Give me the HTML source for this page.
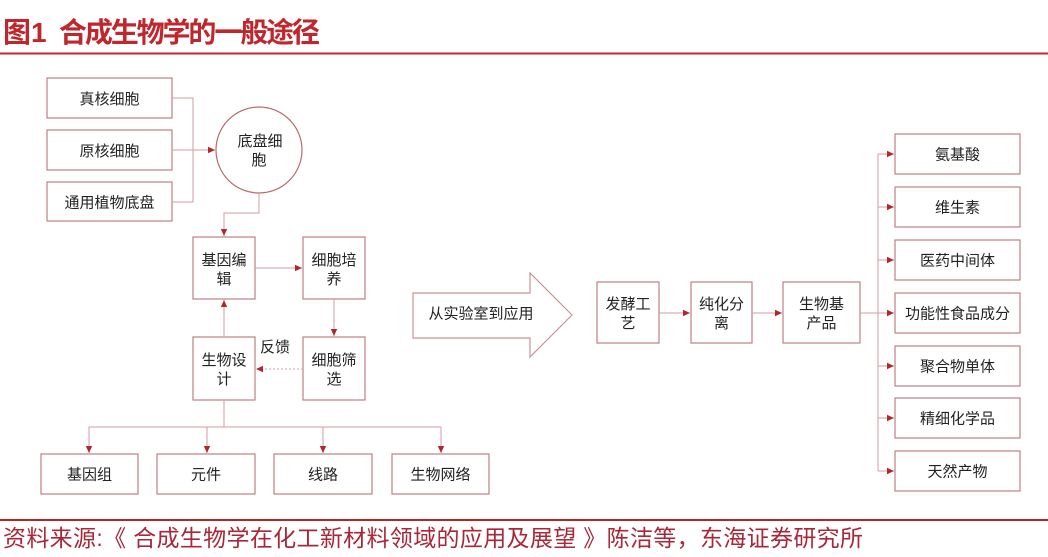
<!DOCTYPE html>
<html><head><meta charset="utf-8">
<style>
html,body{margin:0;padding:0;background:#fff;}
svg{display:block;}
text{font-family:"Liberation Sans","Noto Sans CJK SC",sans-serif;}
</style></head>
<body>
<svg width="1048" height="557" viewBox="0 0 1048 557" xmlns="http://www.w3.org/2000/svg">
<defs>
<marker id="ah" markerWidth="8" markerHeight="8" refX="7" refY="4" orient="auto" markerUnits="userSpaceOnUse">
<path d="M0,0.8 L7,4 L0,7.2 Z" fill="#b3262c"/>
</marker>
</defs>

<!-- Title -->
<text x="3" y="42" font-size="28" font-weight="bold" fill="#c0272d">图1</text>
<text x="59" y="42" font-size="28" font-weight="bold" fill="#c0272d" textLength="261" lengthAdjust="spacing">合成生物学的一般途径</text>
<rect x="0" y="52.5" width="1048" height="2" fill="#c0272d"/>

<g fill="#fff" stroke="#bd7f83" stroke-width="1.2">
<!-- left source boxes -->
<rect x="47" y="78" width="125" height="40"/>
<rect x="47" y="130" width="125" height="40"/>
<rect x="47" y="182" width="125" height="39"/>
<!-- central grid -->
<rect x="193" y="237" width="62" height="62"/>
<rect x="303" y="237" width="62" height="62"/>
<rect x="193" y="337" width="62" height="63"/>
<rect x="303" y="337" width="62" height="63"/>
<!-- bottom boxes -->
<rect x="41" y="454" width="97" height="40"/>
<rect x="157" y="454" width="98" height="40"/>
<rect x="274" y="454" width="98" height="40"/>
<rect x="392" y="454" width="97" height="40"/>
<!-- middle flow -->
<rect x="597" y="282" width="62" height="61"/>
<rect x="691" y="282" width="61" height="61"/>
<rect x="783" y="282" width="77" height="61"/>
<!-- right products -->
<rect x="895" y="134" width="125" height="40"/>
<rect x="895" y="187" width="125" height="40"/>
<rect x="895" y="240" width="125" height="40"/>
<rect x="895" y="293" width="125" height="40"/>
<rect x="895" y="346" width="125" height="40"/>
<rect x="895" y="398" width="125" height="40"/>
<rect x="895" y="451" width="125" height="40"/>
</g>

<!-- circle -->
<circle cx="259" cy="150" r="43" fill="#fff" stroke="#b86a6e" stroke-width="1.2"/>

<!-- big arrow -->
<polygon points="413,293 530,293 530,273 572,315 530,357 530,338 413,338" fill="#fff" stroke="#c99498" stroke-width="1.2"/>

<!-- connectors -->
<g fill="none" stroke="#d29ea1" stroke-width="1">
<polyline points="172,98 193,98 193,202 172,202"/>
<line x1="172" y1="150" x2="215" y2="150" marker-end="url(#ah)"/>
<polyline points="259,193 259,213 224,213 224,236" marker-end="url(#ah)"/>
<line x1="255" y1="268" x2="302" y2="268" marker-end="url(#ah)"/>
<line x1="334" y1="299" x2="334" y2="336" marker-end="url(#ah)"/>
<line x1="224" y1="337" x2="224" y2="300" marker-end="url(#ah)"/>
<line x1="303" y1="369" x2="256" y2="369" stroke-dasharray="2,2" marker-end="url(#ah)"/>
<line x1="224" y1="400" x2="224" y2="427"/>
<line x1="89" y1="427" x2="441" y2="427"/>
<line x1="89" y1="427" x2="89" y2="453" marker-end="url(#ah)"/>
<line x1="207" y1="427" x2="207" y2="453" marker-end="url(#ah)"/>
<line x1="323" y1="427" x2="323" y2="453" marker-end="url(#ah)"/>
<line x1="441" y1="427" x2="441" y2="453" marker-end="url(#ah)"/>
<line x1="659" y1="313" x2="690" y2="313" marker-end="url(#ah)"/>
<line x1="752" y1="313" x2="782" y2="313" marker-end="url(#ah)"/>
<line x1="860" y1="313" x2="878" y2="313"/>
<line x1="878" y1="154" x2="878" y2="471"/>
<line x1="878" y1="154" x2="894" y2="154" marker-end="url(#ah)"/>
<line x1="878" y1="207" x2="894" y2="207" marker-end="url(#ah)"/>
<line x1="878" y1="260" x2="894" y2="260" marker-end="url(#ah)"/>
<line x1="878" y1="313" x2="894" y2="313" marker-end="url(#ah)"/>
<line x1="878" y1="366" x2="894" y2="366" marker-end="url(#ah)"/>
<line x1="878" y1="418" x2="894" y2="418" marker-end="url(#ah)"/>
<line x1="878" y1="471" x2="894" y2="471" marker-end="url(#ah)"/>
</g>

<!-- labels -->
<g font-size="15" fill="#222" text-anchor="middle">
<text x="109.5" y="104">真核细胞</text>
<text x="109.5" y="156">原核细胞</text>
<text x="109.5" y="207.5">通用植物底盘</text>
<text x="260" y="146">底盘细</text>
<text x="259" y="165">胞</text>
<text x="224" y="265">基因编</text>
<text x="224" y="284">辑</text>
<text x="334" y="265">细胞培</text>
<text x="334" y="284">养</text>
<text x="224" y="365">生物设</text>
<text x="224" y="384">计</text>
<text x="334" y="365">细胞筛</text>
<text x="334" y="384">选</text>
<text x="275" y="352">反馈</text>
<text x="89.5" y="479.5">基因组</text>
<text x="206" y="479.5">元件</text>
<text x="323" y="479.5">线路</text>
<text x="440.5" y="479.5">生物网络</text>
<text x="481" y="318.5">从实验室到应用</text>
<text x="628" y="309">发酵工</text>
<text x="628" y="328">艺</text>
<text x="721.5" y="309">纯化分</text>
<text x="721.5" y="328">离</text>
<text x="821.5" y="309">生物基</text>
<text x="821.5" y="328">产品</text>
<text x="957.5" y="159.5">氨基酸</text>
<text x="957.5" y="212.5">维生素</text>
<text x="957.5" y="265.5">医药中间体</text>
<text x="957.5" y="318.5">功能性食品成分</text>
<text x="957.5" y="371.5">聚合物单体</text>
<text x="957.5" y="423.5">精细化学品</text>
<text x="957.5" y="476.5">天然产物</text>
</g>

<!-- footer -->
<rect x="0" y="519" width="1048" height="2" fill="#b3262e"/>
<text x="3" y="546" font-size="23" fill="#a8283a" textLength="860" lengthAdjust="spacing">资料来源:《 合成生物学在化工新材料领域的应用及展望 》陈洁等，东海证券研究所</text>
</svg>
</body></html>
